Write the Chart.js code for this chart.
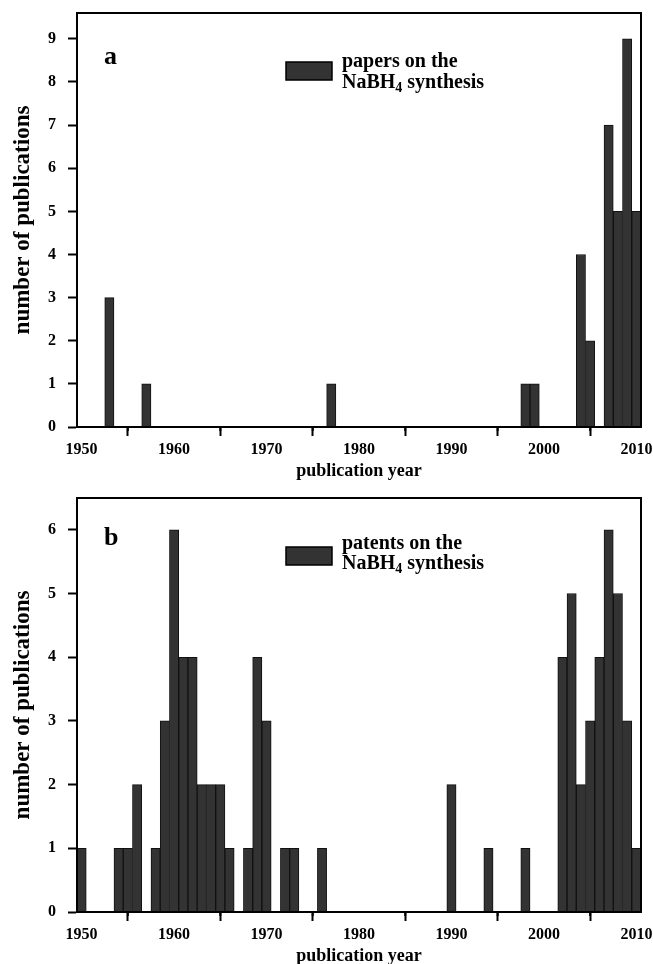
<!DOCTYPE html>
<html>
<head>
<meta charset="utf-8">
<script src="https://cdn.jsdelivr.net/npm/chart.js@4.4.0/dist/chart.umd.min.js"></script>
<style>
  body { margin: 0; background: #fff; overflow: hidden; }
  .panel { position: absolute; left: 0; width: 653px; height: 482px; }
</style>
</head>
<body>
<div class="panel" style="top:0px"><canvas id="chartA" width="653" height="482"></canvas></div>
<div class="panel" style="top:485px"><canvas id="chartB" width="653" height="482"></canvas></div>
<script>
// data
var years_papers = [1953, 1957, 1977, 1998, 1999, 2004, 2005, 2007, 2008, 2009, 2010];
var papers = [3, 1, 1, 1, 1, 4, 2, 7, 5, 9, 5];

var years_patents = [1950, 1954, 1955, 1956, 1958, 1959, 1960, 1961, 1962, 1963, 1964, 1965, 1966,
    1968, 1969, 1970, 1972, 1973, 1976, 1990, 1994, 1998,
    2002, 2003, 2004, 2005, 2006, 2007, 2008, 2009, 2010];
var patents = [1, 1, 1, 2, 1, 3, 6, 4, 4, 2, 2, 2, 1,
    1, 4, 3, 1, 1, 1, 2, 1, 1,
    4, 5, 2, 3, 4, 6, 5, 3, 1];

var x_min = 1949.5, x_max = 2010.5;
var x_step = 10;
var minor_ticks = [1955, 1965, 1975, 1985, 1995, 2005];

var FONT = "'Liberation Serif', 'Times New Roman', serif";

// box round the plot + short minor ticks + legend and panel letter
var framePlugin = {
    id: 'frame',
    afterDraw: function (chart, args, opts) {
        var ctx = chart.ctx;
        var a = chart.chartArea;
        ctx.save();
        ctx.strokeStyle = '#000';
        ctx.lineWidth = 2;
        ctx.strokeRect(a.left, a.top, a.right - a.left, a.bottom - a.top);

        // minor ticks on x
        var xs = chart.scales.x;
        minor_ticks.forEach(function (v) {
            var px = xs.getPixelForValue(v);
            ctx.beginPath();
            ctx.moveTo(px, a.bottom);
            ctx.lineTo(px, a.bottom + 4);
            ctx.stroke();
        });

        // panel letter
        ctx.fillStyle = '#000';
        ctx.textBaseline = 'alphabetic';
        ctx.font = 'bold 26px ' + FONT;
        ctx.fillText(opts.letter, 104, opts.letterY);

        // legend
        ctx.fillStyle = '#333';
        ctx.fillRect(286, 62, 46, 18);
        ctx.lineWidth = 1.5;
        ctx.strokeStyle = '#000';
        ctx.strokeRect(286, 62, 46, 18);

        ctx.fillStyle = '#000';
        ctx.font = 'bold 20px ' + FONT;
        ctx.fillText(opts.line1, 342, opts.line1Y);
        var x = 342;
        ctx.fillText('NaBH', x, opts.line2Y);
        x += ctx.measureText('NaBH').width;
        ctx.font = 'bold 14px ' + FONT;
        ctx.fillText('4', x, opts.line2Y + 4);
        x += ctx.measureText('4').width;
        ctx.font = 'bold 20px ' + FONT;
        ctx.fillText(' synthesis', x, opts.line2Y);
        ctx.restore();
    }
};

function makeChart(canvasId, years, counts, yMax, panel) {
    var points = years.map(function (yr, i) { return { x: yr, y: counts[i] }; });
    return new Chart(document.getElementById(canvasId), {
        type: 'bar',
        data: {
            datasets: [{
                data: points,
                backgroundColor: '#333333',
                borderColor: '#111111',
                borderWidth: 1,
                barPercentage: 1,
                categoryPercentage: 1
            }]
        },
        options: {
            responsive: false,
            animation: false,
            layout: { padding: { top: 13, right: 12, left: 0, bottom: 0 } },
            plugins: {
                legend: { display: false },
                tooltip: { enabled: false },
                frame: panel
            },
            scales: {
                x: {
                    type: 'linear',
                    offset: false,
                    min: x_min,
                    max: x_max,
                    afterFit: function (s) {
                        s.height = 55;
                        s.paddingLeft = 0;
                        s.paddingRight = 0;
                    },
                    grid: { drawOnChartArea: false, drawTicks: true, tickLength: 9, tickWidth: 2, tickColor: '#000' },
                    border: { display: true, color: '#000', width: 2 },
                    ticks: {
                        stepSize: x_step,
                        includeBounds: false,
                        padding: 4,
                        color: '#000',
                        maxRotation: 0,
                        font: { family: FONT, size: 16, weight: 'bold' },
                        callback: function (v) { return String(v); }
                    },
                    title: {
                        display: true,
                        text: 'publication year',
                        color: '#000',
                        padding: { top: 4, bottom: 0 },
                        font: { family: FONT, size: 18, weight: 'bold' }
                    }
                },
                y: {
                    min: 0,
                    max: yMax,
                    afterFit: function (s) {
                        s.width = 77;
                        s.paddingTop = 0;
                        s.paddingBottom = 0;
                    },
                    grid: { drawOnChartArea: false, drawTicks: true, tickLength: 9, tickWidth: 2, tickColor: '#000' },
                    border: { display: true, color: '#000', width: 2 },
                    ticks: {
                        stepSize: 1,
                        includeBounds: false,
                        padding: 12,
                        color: '#000',
                        font: { family: FONT, size: 16, weight: 'bold' }
                    },
                    title: {
                        display: true,
                        text: 'number of publications',
                        color: '#000',
                        padding: { top: 9, bottom: 0 },
                        font: { family: FONT, size: 23, weight: 'bold' }
                    }
                }
            }
        },
        plugins: [framePlugin]
    });
}

makeChart('chartA', years_papers, papers, 9.6,
    { letter: 'a', letterY: 64, line1: 'papers on the', line1Y: 67, line2Y: 88 });
makeChart('chartB', years_patents, patents, 6.5,
    { letter: 'b', letterY: 60, line1: 'patents on the', line1Y: 64, line2Y: 84 });
</script>
</body>
</html>
